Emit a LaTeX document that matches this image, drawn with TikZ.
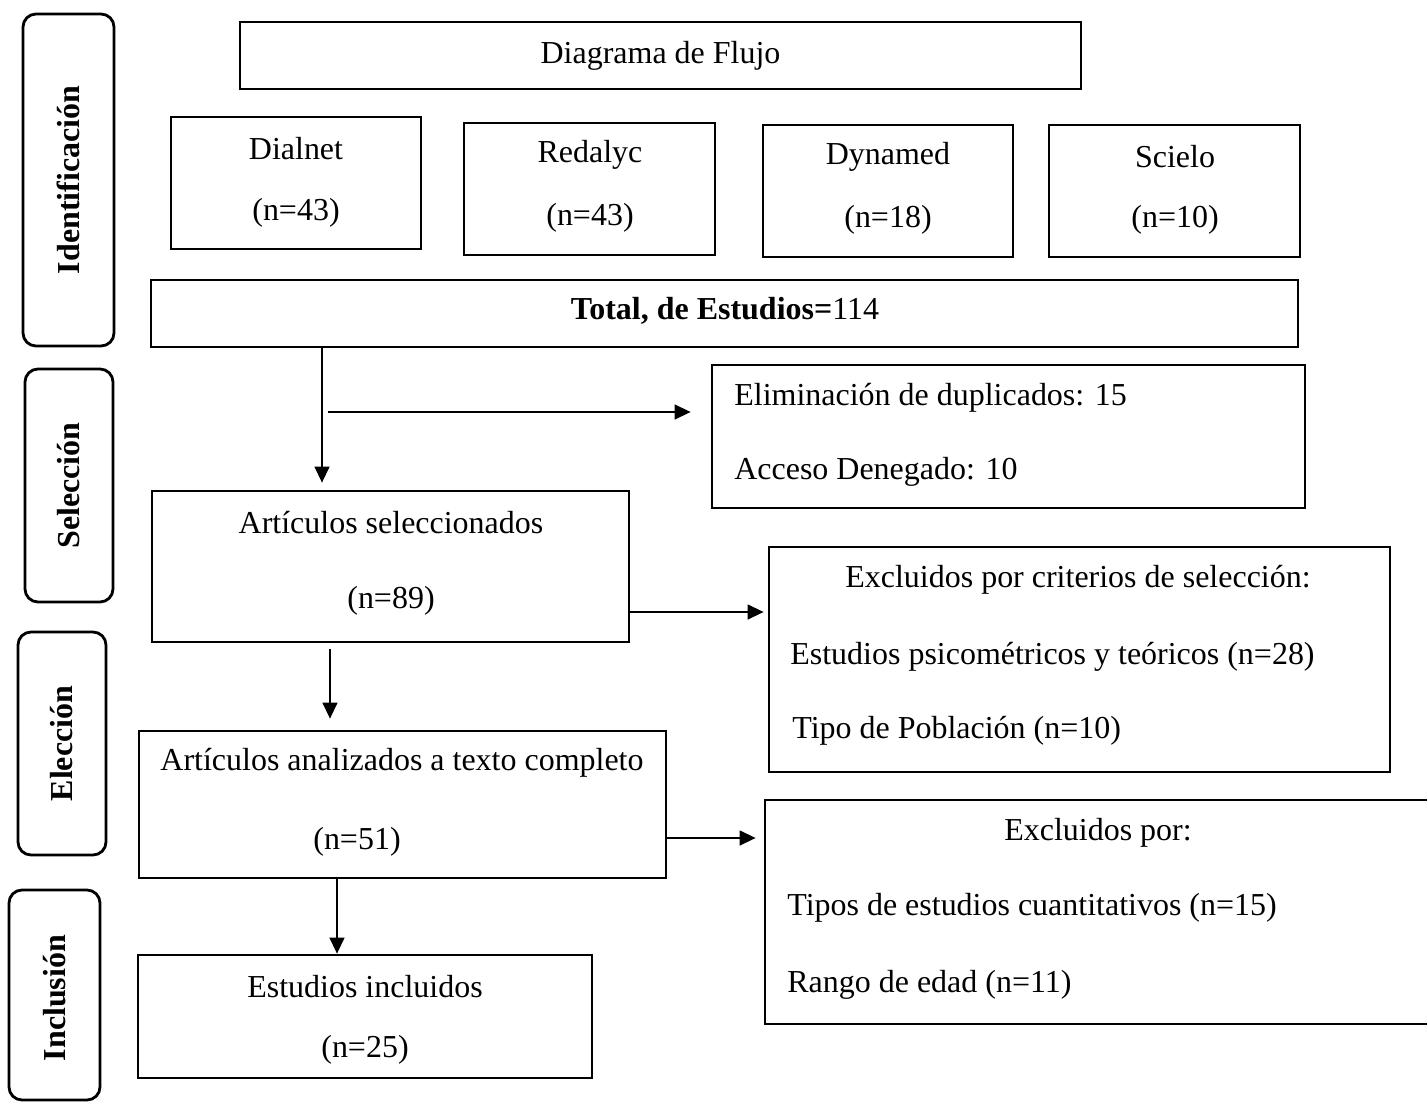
\documentclass[tikz,border=0pt]{standalone}
\usepackage{fontspec}
\setmainfont{Liberation Serif}
\usetikzlibrary{arrows.meta,fit}
\begin{document}
\begin{tikzpicture}[x=0.02cm,y=-0.02cm,
  box/.style={draw, line width=1.6pt, inner sep=0pt},
  phase/.style={draw, line width=1.6pt, rounded corners=0.26cm, inner sep=0pt},
  txt/.style={font=\fontsize{18.2}{22}\selectfont, inner sep=0pt},
  ltxt/.style={txt, anchor=west},
  vtxt/.style={font=\fontsize{18.2}{22}\selectfont\bfseries, rotate=90, inner sep=0pt},
  arr/.style={line width=0.8pt, -{Triangle[length=0.32cm,width=0.3cm]}}]
\useasboundingbox (0,0) rectangle (1427,1102);
\clip (0,0) rectangle (1427,1102);
% phase boxes
\node[phase, fit={(23,14) (114,346)}] (p1) {};
\node[vtxt] (p1t) at (p1.center) {Identificación};
\node[phase, fit={(25,369) (113,602)}] (p2) {};
\node[vtxt] (p2t) at (p2.center) {Selección};
\node[phase, fit={(18,632) (106,855)}] (p3) {};
\node[vtxt] (p3t) at (p3.center) {Elección};
\node[phase, fit={(9,890) (100,1100)}] (p4) {};
\node[vtxt] (p4t) at (55,998) {Inclusión};
% title
\node[box, fit={(240,22) (1081,89)}] (title) {};
\node[txt] (titlet) at (title.center) {Diagrama de Flujo};
% sources
\node[box, fit={(171,117) (421,249)}] (dial) {};
\node[txt] (dial1) at (296,149) {Dialnet};
\node[txt] (dial2) at (296,213) {(n=43)};
\node[box, fit={(464,123) (715,255)}] (reda) {};
\node[txt] (reda1) at (590,155) {Redalyc};
\node[txt] (reda2) at (590,218) {(n=43)};
\node[box, fit={(763,125) (1013,257)}] (dyna) {};
\node[txt] (dyna1) at (888,157) {Dynamed};
\node[txt] (dyna2) at (888,220) {(n=18)};
\node[box, fit={(1049,125) (1300,257)}] (scie) {};
\node[txt] (scie1) at (1175,157) {Scielo};
\node[txt] (scie2) at (1175,220) {(n=10)};
% total
\node[box, fit={(151,280) (1298,347)}] (total) {};
\node[txt] (totalt) at (725,311) {\textbf{Total, de Estudios=}114};
% elimination
\node[box, fit={(712,365) (1305,508)}] (elim) {};
\node[ltxt] (elim1) at (734,398) {Eliminación de duplicados: 15};
\node[ltxt] (elim2) at (734,472) {Acceso Denegado: 10};
% selected
\node[box, fit={(152,491) (629,642)}] (sel) {};
\node[txt] (sel1) at (391,523) {Artículos seleccionados};
\node[txt] (sel2) at (391,601) {(n=89)};
% excluded by criteria
\node[box, fit={(769,547) (1390,772)}] (crit) {};
\node[txt] (crit1) at (1078,580) {Excluidos por criterios de selección:};
\node[ltxt] (crit2) at (790,657) {Estudios psicométricos y teóricos (n=28)};
\node[ltxt] (crit3) at (792,731) {Tipo de Población (n=10)};
% analysed
\node[box, fit={(139,731) (666,878)}] (anal) {};
\node[txt] (anal1) at (402,763) {Artículos analizados a texto completo};
\node[txt] (anal2) at (357,842) {(n=51)};
% excluded by
\node[box, fit={(765,800) (1440,1024)}] (excl) {};
\node[txt] (excl1) at (1098,833) {Excluidos por:};
\node[ltxt] (excl2) at (787,908) {Tipos de estudios cuantitativos (n=15)};
\node[ltxt] (excl3) at (787,985) {Rango de edad (n=11)};
% included
\node[box, fit={(138,955) (592,1078)}] (incl) {};
\node[txt] (incl1) at (365,987) {Estudios incluidos};
\node[txt] (incl2) at (365,1050) {(n=25)};
% connectors
\coordinate (v1) at (322,0);
\coordinate (h1) at (328,412);
\coordinate (h2) at (0,612);
\coordinate (v2) at (330,0);
\coordinate (h3) at (0,838);
\coordinate (v3) at (337,0);
\draw[arr, shorten >=0.14cm] (total.south -| v1) -- (sel.north -| v1);
\draw[arr, shorten >=0.4cm] (h1) -- (elim.west |- h1);
\draw[arr, shorten >=0.08cm] (sel.east |- h2) -- (crit.west |- h2);
\draw[arr, shorten <=0.12cm, shorten >=0.22cm] (sel.south -| v2) -- (anal.north -| v2);
\draw[arr, shorten >=0.16cm] (anal.east |- h3) -- (excl.west |- h3);
\draw[arr] (anal.south -| v3) -- (incl.north -| v3);
\end{tikzpicture}
\end{document}
